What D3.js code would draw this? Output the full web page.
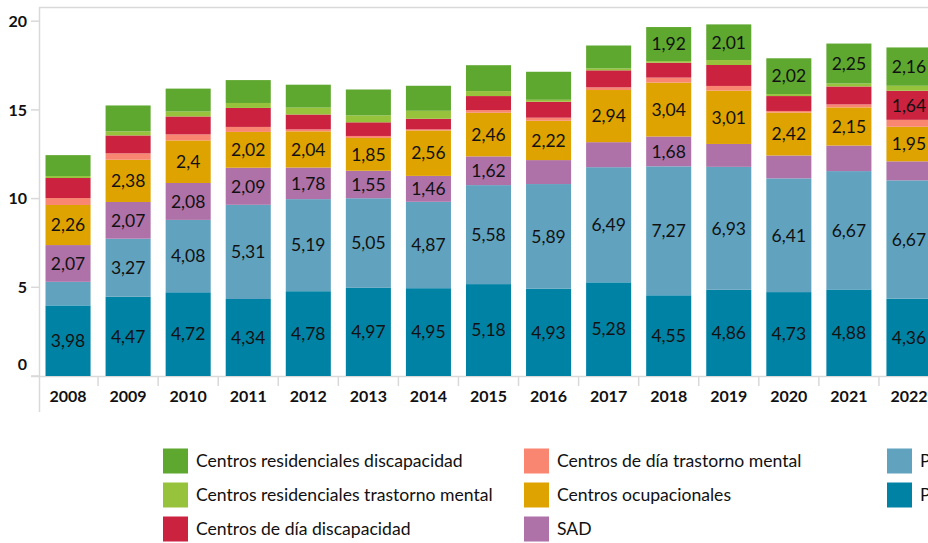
<!DOCTYPE html>
<html>
<head>
<meta charset="utf-8">
<script src="https://cdn.jsdelivr.net/npm/d3@7"></script>
<style>
  html, body { margin: 0; padding: 0; background: #fff; overflow: hidden; }
  svg { display: block; }
  text { font-family: Lato, "Open Sans", sans-serif; }
</style>
</head>
<body>
<svg id="chart" width="928" height="543"></svg>
<script>
// ---------- DATA ----------
const years = ["2008","2009","2010","2011","2012","2013","2014","2015","2016","2017","2018","2019","2020","2021","2022"];

// series listed bottom -> top of the stack
const seriesNames = [
  "Prestación económica cuidados entorno familiar",
  "Prestación económica vinculada al servicio",
  "SAD",
  "Centros ocupacionales",
  "Centros de día trastorno mental",
  "Centros de día discapacidad",
  "Centros residenciales trastorno mental",
  "Centros residenciales discapacidad"
];

const pDark  = [3.98, 4.47, 4.72, 4.34, 4.78, 4.97, 4.95, 5.18, 4.93, 5.28, 4.55, 4.86, 4.73, 4.88, 4.36];
const pLight = [1.33, 3.27, 4.08, 5.31, 5.19, 5.05, 4.87, 5.58, 5.89, 6.49, 7.27, 6.93, 6.41, 6.67, 6.67];
const sad    = [2.07, 2.07, 2.08, 2.09, 1.78, 1.55, 1.46, 1.62, 1.35, 1.41, 1.68, 1.29, 1.29, 1.44, 1.07];
const ocup   = [2.26, 2.38, 2.40, 2.02, 2.04, 1.85, 2.56, 2.46, 2.22, 2.94, 3.04, 3.01, 2.42, 2.15, 1.95];
const cdTM   = [0.39, 0.36, 0.34, 0.28, 0.11, 0.11, 0.06, 0.15, 0.17, 0.15, 0.28, 0.26, 0.09, 0.17, 0.39];
const cdDis  = [1.13, 1.01, 1.01, 1.07, 0.84, 0.77, 0.60, 0.79, 0.90, 0.96, 0.84, 1.18, 0.84, 1.01, 1.64];
const crTM   = [0.11, 0.23, 0.28, 0.28, 0.39, 0.39, 0.45, 0.28, 0.11, 0.11, 0.09, 0.28, 0.11, 0.17, 0.28];
const crDis  = [1.18, 1.46, 1.29, 1.29, 1.29, 1.46, 1.41, 1.46, 1.58, 1.29, 1.92, 2.01, 2.02, 2.25, 2.16];

const seriesValues = [pDark, pLight, sad, ocup, cdTM, cdDis, crTM, crDis];

// years whose segment carries a value label, per series (same order)
const labeledYears = [
  years,
  years.slice(1),
  ["2008","2009","2010","2011","2012","2013","2014","2015","2018"],
  years,
  [],
  ["2022"],
  [],
  ["2018","2019","2020","2021","2022"]
];

const yTicks = [0, 5, 10, 15, 20];

// legend order (column-major, 3 rows)
const legendOrder = [
  "Centros residenciales discapacidad",
  "Centros residenciales trastorno mental",
  "Centros de día discapacidad",
  "Centros de día trastorno mental",
  "Centros ocupacionales",
  "SAD",
  "Prestación económica vinculada al servicio",
  "Prestación económica cuidados entorno familiar"
];

const colors = {
  "Prestación económica cuidados entorno familiar": "#0082a5",
  "Prestación económica vinculada al servicio": "#61a3bf",
  "SAD": "#ae71a8",
  "Centros ocupacionales": "#dfa300",
  "Centros de día trastorno mental": "#f98670",
  "Centros de día discapacidad": "#cb2240",
  "Centros residenciales trastorno mental": "#97c33c",
  "Centros residenciales discapacidad": "#5fa82f"
};

// ---------- BUILD TABLE ----------
const table = years.map((y, i) => {
  const row = { year: y };
  seriesNames.forEach((s, k) => row[s] = seriesValues[k][i]);
  return row;
});
const stacked = d3.stack().keys(seriesNames)(table);

// ---------- DRAW ----------
const svg = d3.select("#chart");
const gridGrey = "#d9d9d9";

const x = d3.scaleBand().domain(years).range([38, 939]).paddingInner(0.25).paddingOuter(0.125);
const y = d3.scaleLinear().domain([0, 20.8]).range([376, 7]);

// frame lines
svg.append("line").attr("x1", 39).attr("x2", 928).attr("y1", 7.5).attr("y2", 7.5)
  .attr("stroke", gridGrey).attr("stroke-width", 1.5);
svg.append("line").attr("x1", 39.5).attr("x2", 39.5).attr("y1", 7).attr("y2", 412)
  .attr("stroke", gridGrey).attr("stroke-width", 1.5);
svg.append("line").attr("x1", 31).attr("x2", 928).attr("y1", 376.5).attr("y2", 376.5)
  .attr("stroke", gridGrey).attr("stroke-width", 1.5);

// y ticks
const yAxisG = svg.append("g");
yAxisG.selectAll("line.tk").data(yTicks).join("line")
  .attr("x1", 31).attr("x2", 39).attr("y1", d => y(d)).attr("y2", d => y(d))
  .attr("stroke", gridGrey).attr("stroke-width", 1.5);
yAxisG.selectAll("text").data(yTicks).join("text")
  .attr("x", 27)
  .attr("y", d => d === 0 ? y(d) - 12 : y(d))
  .attr("dy", "0.36em")
  .attr("text-anchor", "end")
  .attr("font-weight", "bold")
  .attr("font-size", 16)
  .attr("fill", "#111")
  .text(d => d);

// category separators
const step = x.step();
svg.append("g").selectAll("line").data(years.slice(1)).join("line")
  .attr("x1", d => x(d) - (step - x.bandwidth()) / 2)
  .attr("x2", d => x(d) - (step - x.bandwidth()) / 2)
  .attr("y1", 376).attr("y2", 386)
  .attr("stroke", gridGrey).attr("stroke-width", 1.5);

// bars
const layers = svg.append("g").selectAll("g").data(stacked).join("g")
  .attr("fill", d => colors[d.key]);
layers.selectAll("rect").data(d => d).join("rect")
  .attr("x", d => x(d.data.year))
  .attr("width", x.bandwidth())
  .attr("y", d => y(d[1]))
  .attr("height", d => y(d[0]) - y(d[1]));

// value labels
const fmt = v => String(+v.toFixed(2)).replace(".", ",");
const labelsG = svg.append("g");
stacked.forEach((layer, k) => {
  const show = new Set(labeledYears[k]);
  labelsG.append("g").selectAll("text")
    .data(layer.filter(d => show.has(d.data.year)))
    .join("text")
    .attr("x", d => x(d.data.year) + x.bandwidth() / 2)
    .attr("y", d => (y(d[0]) + y(d[1])) / 2)
    .attr("dy", "0.36em")
    .attr("text-anchor", "middle")
    .attr("font-size", 17.5)
    .attr("fill", "#111")
    .text(d => fmt(d[1] - d[0]));
});

// x labels
svg.append("g").selectAll("text").data(years).join("text")
  .attr("x", d => x(d) + x.bandwidth() / 2)
  .attr("y", 396)
  .attr("dy", "0.36em")
  .attr("text-anchor", "middle")
  .attr("font-weight", "bold")
  .attr("font-size", 16)
  .attr("fill", "#111")
  .text(d => d);

// legend
const colX = [163, 524, 887];
const rowY = [461, 495, 529];
const leg = svg.append("g").selectAll("g").data(legendOrder).join("g")
  .attr("transform", (d, i) => `translate(${colX[Math.floor(i / 3)]},${rowY[i % 3]})`);
leg.append("rect").attr("x", 0).attr("y", -12.5).attr("width", 25).attr("height", 25)
  .attr("fill", d => colors[d]);
leg.append("text").attr("x", 33).attr("y", 0).attr("dy", "0.36em")
  .attr("font-size", 17.6).attr("fill", "#111").text(d => d);
</script>
</body>
</html>
